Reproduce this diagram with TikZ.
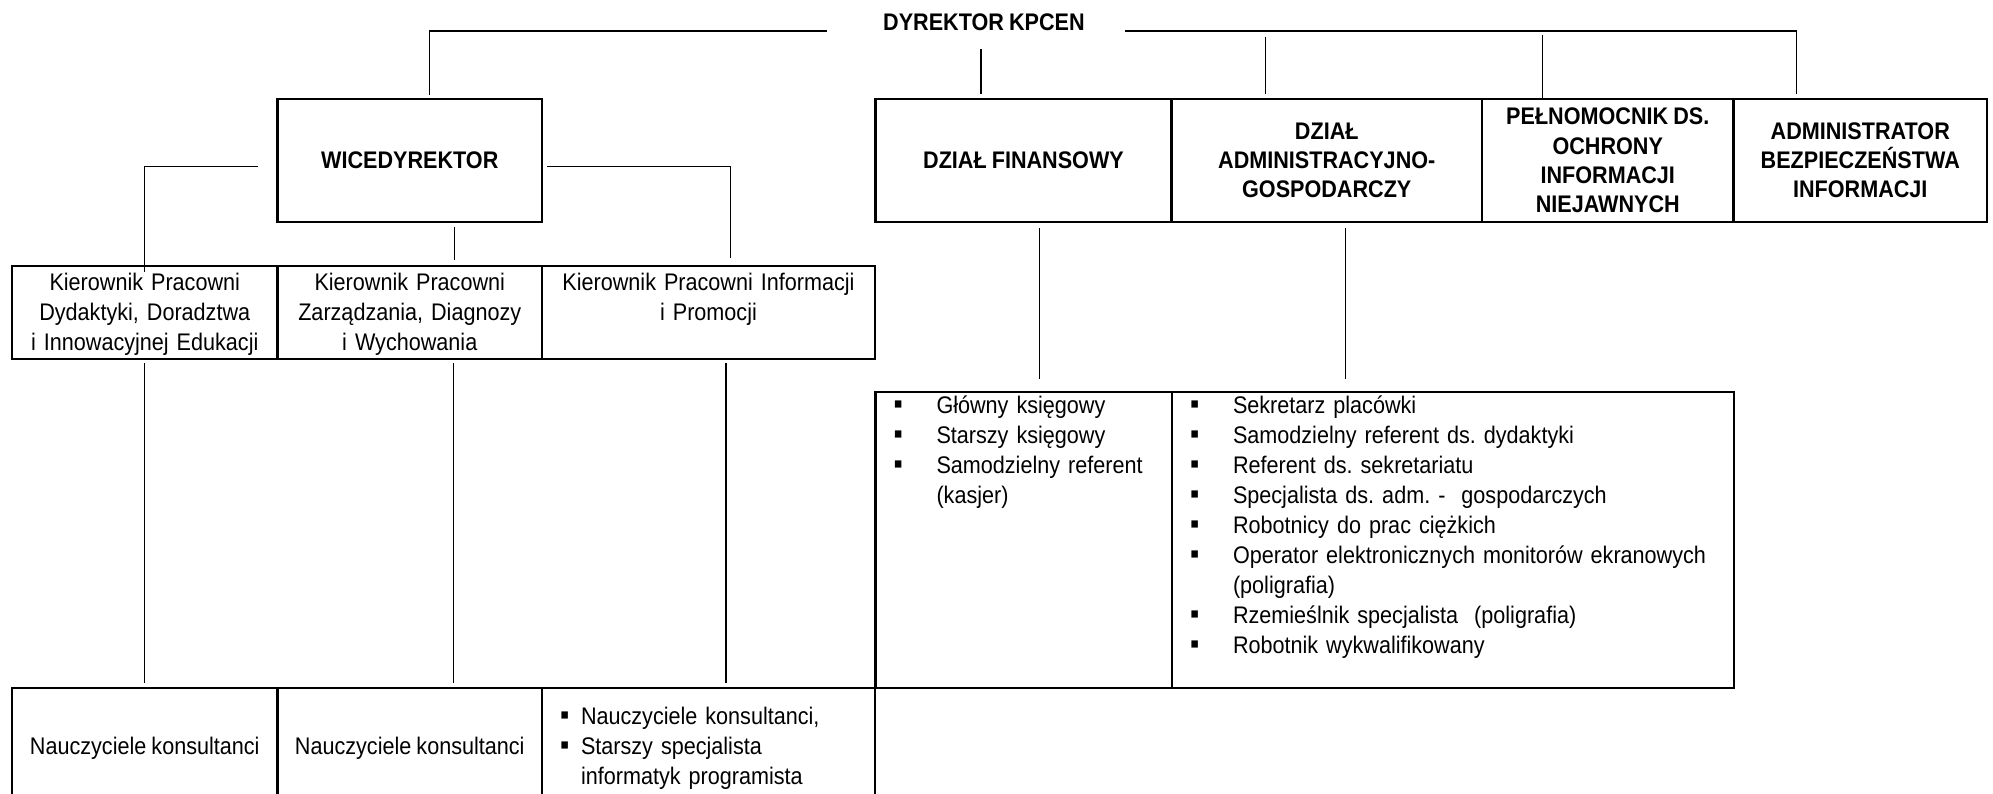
\documentclass[tikz,border=0pt]{standalone}
\usepackage{fontspec}
\setmainfont{Liberation Sans}[FakeStretch=0.9, WordSpace=0.85]
\usetikzlibrary{positioning}
\frenchspacing
\newcommand{\bul}[1][21.5pt]{\makebox[#1][l]{\fontsize{14.5}{15}\selectfont ▪}}

\begin{document}
\begin{tikzpicture}[x=0.5pt, y=0.5pt,
    font=\fontsize{12}{15}\selectfont,
    cell/.style={draw, line width=1.1pt, inner sep=0pt, outer sep=0pt},
    head/.style={cell, font=\fontsize{12}{14.6}\selectfont\bfseries, align=center, minimum height=61.5pt},
    kier/.style={cell, align=center, inner xsep=2pt, text height=12.5pt, text depth=34pt},
    list/.style={cell, align=left, inner xsep=9pt, text height=10.8pt, text depth=137.2pt},
    staff/.style={cell, minimum height=60pt},
    link/.style={line width=0.7pt}]
    \useasboundingbox (0,0) rectangle (1993,793);

    \node[anchor=base, inner sep=0pt, font=\fontsize{12}{14.6}\selectfont\bfseries] (dyr) at (984,762) {DYREKTOR KPCEN};

    \node[head, minimum width=132.25pt] (wice) at (409.75,632.5) {WICEDYREKTOR};
    \node[head, minimum width=148pt] (fin) at (1023.5,632.5) {DZIAŁ FINANSOWY};
    \node[head, minimum width=155.25pt, right=0pt of fin] (adm) {DZIAŁ\\ ADMINISTRACYJNO-\\ GOSPODARCZY};
    \node[head, minimum width=125.75pt, right=0pt of adm] (pel) {PEŁNOMOCNIK DS.\\ OCHRONY\\ INFORMACJI\\ NIEJAWNYCH};
    \node[head, minimum width=126.75pt, right=0pt of pel] (abi) {ADMINISTRATOR\\ BEZPIECZEŃSTWA\\ INFORMACJI};

    \node[kier, text width=128.75pt] (k1) at (144.75,480.5) {Kierownik Pracowni\\ Dydaktyki, Doradztwa\\ i Innowacyjnej Edukacji};
    \node[kier, text width=128.25pt, right=0pt of k1] (k2) {Kierownik Pracowni\\ Zarządzania, Diagnozy\\ i Wychowania};
    \node[kier, text width=162.5pt, right=0pt of k2] (k3) {Kierownik Pracowni Informacji\\ i Promocji};

    \node[list, text width=130.25pt] (l1) at (1023.75,253) {\bul Główny księgowy\\ \bul Starszy księgowy\\ \bul Samodzielny referent\\ \hspace*{21.5pt}(kasjer)};
    \node[list, text width=263pt, right=0pt of l1] (l2) {\bul Sekretarz placówki\\ \bul Samodzielny referent ds. dydaktyki\\ \bul Referent ds. sekretariatu\\ \bul Specjalista ds. adm. -\ \ gospodarczych\\ \bul Robotnicy do prac ciężkich\\ \bul Operator elektronicznych monitorów ekranowych\\ \hspace*{21.5pt}(poligrafia)\\ \bul Rzemieślnik specjalista\ \ (poligrafia)\\ \bul Robotnik wykwalifikowany};

    \node[staff, minimum width=132.75pt] (b1) at (144.75,45) {Nauczyciele konsultanci};
    \node[staff, minimum width=132.25pt, right=0pt of b1] (b2) {Nauczyciele konsultanci};
    \node[staff, align=left, inner xsep=9pt, text width=148.5pt, right=0pt of b2] (b3) {\bul[10.5pt]Nauczyciele konsultanci,\\ \bul[10.5pt]Starszy specjalista\\ \hspace*{10.5pt}informatyk programista};

    \coordinate (finTop) at (981,744);
    \coordinate (admTop) at (1265.5,756);
    \coordinate (pelTop) at (1542.5,758);

    \draw[link] ([xshift=-28pt]dyr.base west) -| ([xshift=10pt,yshift=2pt]wice.north);
    \draw[link] ([xshift=20pt]dyr.base east) -| ([xshift=-32pt,yshift=2.5pt]abi.north);
    \draw[link, shorten >=2.5pt] (finTop) -- (finTop |- fin.north);
    \draw[link, shorten >=2.5pt] (admTop) -- (admTop |- adm.north);
    \draw[link] (pelTop) -- (pelTop |- pel.north);

    \draw[link] ([xshift=-10pt,yshift=-3pt]wice.west) -| ([yshift=-3pt]k1.north);
    \draw[link] ([xshift=22.5pt,yshift=-2.5pt]wice.south) -- ([xshift=22.5pt,yshift=3pt]k2.north);
    \draw[link] ([xshift=2.5pt,yshift=-3pt]wice.east) -| ([xshift=11pt,yshift=4pt]k3.north);

    \draw[link] ([yshift=-2pt]k1.south) -- ([yshift=2.5pt]b1.north);
    \draw[link] ([xshift=22pt,yshift=-2pt]k2.south) -- ([xshift=22pt,yshift=2.5pt]b2.north);
    \draw[link] ([xshift=8.75pt,yshift=-2pt]k3.south) -- ([xshift=8.75pt,yshift=2.5pt]b3.north);

    \draw[link, shorten <=3pt, shorten >=6.5pt] ([xshift=8pt]fin.south) -- ([xshift=8pt]fin.south |- l1.north);
    \draw[link, shorten <=3pt, shorten >=6.5pt] ([xshift=9.4pt]adm.south) -- ([xshift=9.4pt]adm.south |- l2.north);
\end{tikzpicture}
\end{document}
